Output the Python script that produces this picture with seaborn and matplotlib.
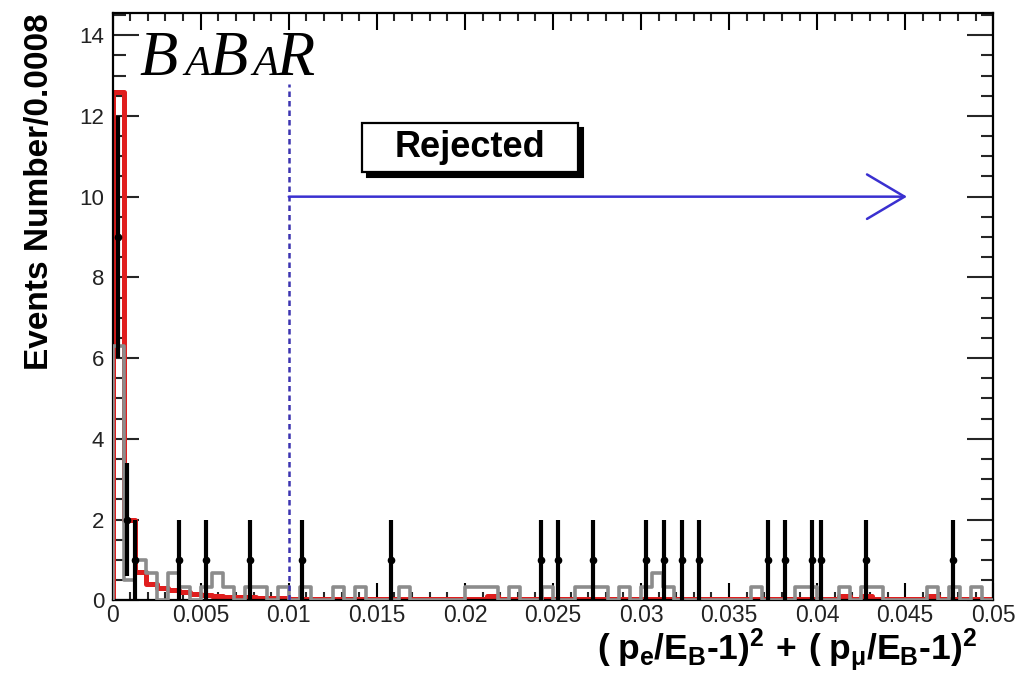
import numpy as np
import pandas as pd
import matplotlib
matplotlib.use("Agg")
import matplotlib.pyplot as plt
import seaborn as sns
from matplotlib.patches import Rectangle
from matplotlib.ticker import MultipleLocator

# ---------------- data ----------------
BIN_WIDTH = 0.000625
N_BINS = 80

# grey histogram (background MC), per bin
bkg_gray = [6.3, 0.5, 1.0, 0.67, 0.0, 0.67, 0.33, 0.0, 0.33, 0.67, 0.33, 0.0, 0.33, 0.33, 0.0, 0.33,
            0.0, 0.33, 0.0, 0.0, 0.33, 0.0, 0.33, 0.0, 0.0, 0.0, 0.33, 0.0, 0.0, 0.0, 0.0, 0.0,
            0.33, 0.33, 0.33, 0.0, 0.33, 0.0, 0.0, 0.33, 0.0, 0.0, 0.33, 0.33, 0.33, 0.0, 0.33, 0.0,
            0.33, 0.67, 0.33, 0.0, 0.0, 0.0, 0.0, 0.0, 0.0, 0.0, 0.33, 0.0, 0.0, 0.0, 0.33, 0.33,
            0.0, 0.0, 0.33, 0.0, 0.33, 0.33, 0.0, 0.0, 0.0, 0.0, 0.33, 0.0, 0.33, 0.0, 0.33, 0.0]

# red histogram (signal MC), per bin
sig_red = [12.6, 2.0, 0.7, 0.4, 0.3, 0.25, 0.2, 0.15, 0.12, 0.1, 0.09, 0.08, 0.07, 0.06, 0.05, 0.05,
           0.04, 0.04, 0.04, 0.03, 0.03, 0.03, 0.03, 0.03, 0.03, 0.03, 0.03, 0.03, 0.03, 0.03, 0.03, 0.03,
           0.03, 0.03, 0.1, 0.03, 0.03, 0.03, 0.03, 0.03, 0.03, 0.03, 0.03, 0.03, 0.03, 0.03, 0.03, 0.03,
           0.03, 0.03, 0.03, 0.03, 0.03, 0.03, 0.03, 0.03, 0.03, 0.03, 0.03, 0.03, 0.03, 0.03, 0.03, 0.03,
           0.03, 0.03, 0.1, 0.03, 0.1, 0.03, 0.03, 0.03, 0.03, 0.03, 0.1, 0.03, 0.03, 0.03, 0.03, 0.03]

# data points
data_x = [0.0003, 0.0008, 0.00125, 0.00375, 0.0053, 0.0078, 0.01075, 0.0158, 0.0243, 0.0253,
          0.0273, 0.0303, 0.0313, 0.0323, 0.0333, 0.0372, 0.0382, 0.0397, 0.0402, 0.0428, 0.0477]
data_y = [9, 2, 1, 1, 1, 1, 1, 1, 1, 1, 1, 1, 1, 1, 1, 1, 1, 1, 1, 1, 1]
data_err = [3, 1.41, 1, 1, 1, 1, 1, 1, 1, 1, 1, 1, 1, 1, 1, 1, 1, 1, 1, 1, 1]

cut_value = 0.01
arrow_y = 10
arrow_end = 0.0451
cut_top = 12.8

xtick_vals = [0, 0.005, 0.01, 0.015, 0.02, 0.025, 0.03, 0.035, 0.04, 0.045, 0.05]
xtick_labels = ["0", "0.005", "0.01", "0.015", "0.02", "0.025", "0.03", "0.035", "0.04", "0.045", "0.05"]
ytick_vals = [0, 2, 4, 6, 8, 10, 12, 14]
ytick_labels = ["0", "2", "4", "6", "8", "10", "12", "14"]

# ---------------- plot ----------------
sns.set_theme(style="white")
plt.rcParams["font.family"] = ["Liberation Sans", "DejaVu Sans"]
plt.rcParams["mathtext.fontset"] = "custom"
plt.rcParams["mathtext.rm"] = "Liberation Sans:bold"
plt.rcParams["mathtext.it"] = "Liberation Sans:bold"
plt.rcParams["mathtext.bf"] = "Liberation Sans:bold"

fig = plt.figure(figsize=(10.24, 6.86), dpi=100)
ax = fig.add_axes([0.110, 0.125, 0.860, 0.856])

edges = np.arange(N_BINS + 1) * BIN_WIDTH
step_df = pd.DataFrame({
    "edge": np.concatenate([[0.0], edges]),
    "gray": np.concatenate([[0.0], bkg_gray, [bkg_gray[-1]]]),
    "red": np.concatenate([[0.0], sig_red, [sig_red[-1]]]),
})

sns.lineplot(data=step_df, x="edge", y="red", estimator=None, sort=False,
             drawstyle="steps-post", color="#e01e1e", linewidth=3.6, ax=ax, zorder=2)
sns.lineplot(data=step_df, x="edge", y="gray", estimator=None, sort=False,
             drawstyle="steps-post", color="#8c8c8c", linewidth=2.6, ax=ax, zorder=3)

ax.errorbar(data_x, data_y, yerr=data_err, fmt="o", color="black", ms=4.5,
            elinewidth=3.0, capsize=0, zorder=4)

# cut line and arrow
ax.plot([cut_value, cut_value], [0, cut_top], color="#3b33b0", lw=1.8,
        linestyle=(0, (2.2, 1.6)), zorder=5)
ax.annotate("", xy=(arrow_end, arrow_y), xytext=(cut_value, arrow_y),
            arrowprops=dict(arrowstyle="->,head_length=2.7,head_width=1.6", mutation_scale=10,
                            lw=1.8, color="#3a30d0", shrinkA=0, shrinkB=0), zorder=5)

# Rejected box with shadow
bx0, by0, bw, bh = 0.283, 0.729, 0.245, 0.084
ax.add_patch(Rectangle((bx0 + 0.006, by0 - 0.009), bw, bh, transform=ax.transAxes,
                       facecolor="black", edgecolor="black", lw=1.5, zorder=6))
ax.add_patch(Rectangle((bx0, by0), bw, bh, transform=ax.transAxes,
                       facecolor="white", edgecolor="black", lw=1.6, zorder=7))
ax.text(bx0 + bw / 2, by0 + bh / 2, "Rejected", transform=ax.transAxes, ha="center",
        va="center", fontsize=26, fontweight="bold", color="black", zorder=8)

# BABAR logo
logo_font = ["Liberation Serif", "DejaVu Serif"]
logo = [("B", 0.030, 45), ("A", 0.081, 31), ("B", 0.110, 45), ("A", 0.159, 31), ("R", 0.186, 45)]
for ch, xp, fs in logo:
    ax.text(xp, 0.894, ch, transform=ax.transAxes, ha="left", va="baseline",
            fontsize=fs, style="italic", family=logo_font, color="black", zorder=8)

# axes cosmetics
ax.set_xlim(0, 0.05)
ax.set_ylim(0, 14.55)
ax.set_xticks(xtick_vals)
ax.set_xticklabels(xtick_labels)
ax.set_yticks(ytick_vals)
ax.set_yticklabels(ytick_labels)
ax.xaxis.set_minor_locator(MultipleLocator(0.001))
ax.yaxis.set_minor_locator(MultipleLocator(0.5))
ax.tick_params(axis="x", which="major", direction="in", length=12, width=1.5,
               top=True, bottom=True, labelsize=16.5, pad=3, colors="black", labelcolor="#222222")
ax.tick_params(axis="x", which="minor", direction="in", length=6, width=1.5, top=True, bottom=True)
ax.tick_params(axis="y", which="major", direction="in", length=18.5, width=1.5,
               left=True, right=True, labelsize=16, pad=6, labelcolor="#222222")
ax.tick_params(axis="y", which="minor", direction="in", length=9, width=1.5, left=True, right=True)
for s in ax.spines.values():
    s.set_color("black")
    s.set_linewidth(1.6)
ax.set_xlabel("")
ax.set_ylabel("")

fig.text(0.0386, 0.981, "Events Number/0.0008", rotation=90, ha="center", va="top",
         fontsize=24, fontweight="bold", color="black")
fig.text(0.954, 0.038,
         r"$(\;p_{e}/E_{B}\text{-}1)^{2}\,+\,(\;p_{\mu}/E_{B}\text{-}1)^{2}$",
         ha="right", va="baseline", fontsize=25.5, color="black")

fig.savefig("out.png", dpi=100)
